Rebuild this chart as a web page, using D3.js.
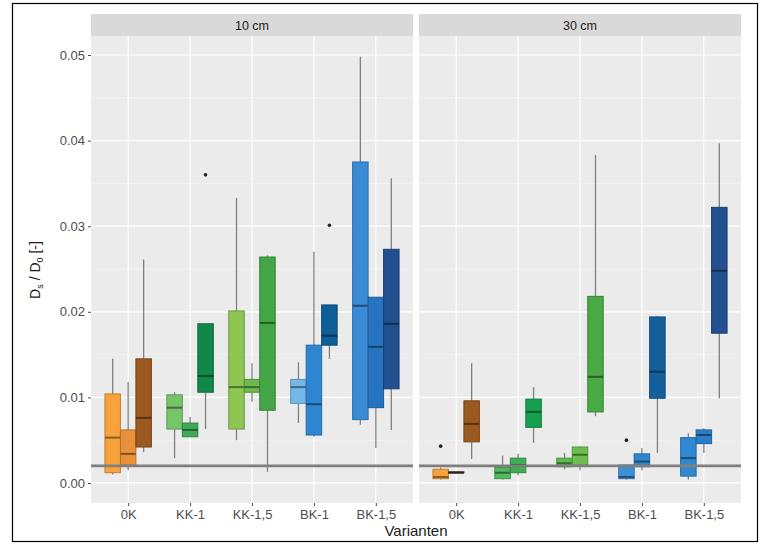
<!DOCTYPE html>
<html><head><meta charset="utf-8">
<script src="https://cdn.jsdelivr.net/npm/d3@7"></script>
<style>body{margin:0;background:#fff}svg{display:block;font-family:"Liberation Sans",Arial,sans-serif}</style>
</head><body><svg id="c" width="768" height="549"></svg>
<script>
const variants = ["0K","KK-1","KK-1,5","BK-1","BK-1,5"];
const depths = ["10 cm","30 cm"];
const yTicks = [0,0.01,0.02,0.03,0.04,0.05];
const refLine = 0.002;
// [variant, slot, whiskerLow, q1, median, q3, whiskerHigh]
const boxes10 = [
  ["0K",0,0.0010,0.0012,0.0053,0.0104,0.0145],
  ["0K",1,0.0015,0.0021,0.0034,0.0062,0.0118],
  ["0K",2,0.0036,0.0042,0.0076,0.0145,0.0261],
  ["KK-1",0,0.0029,0.0063,0.0088,0.0103,0.0106],
  ["KK-1",1,0.0054,0.0054,0.0062,0.0070,0.0077],
  ["KK-1",2,0.0063,0.0106,0.0125,0.0186,0.0186],
  ["KK-1,5",0,0.0050,0.0063,0.0112,0.0201,0.0333],
  ["KK-1,5",1,0.0095,0.0106,0.0112,0.0121,0.0140],
  ["KK-1,5",2,0.0013,0.0085,0.0187,0.0264,0.0266],
  ["BK-1",0,0.0070,0.0093,0.0112,0.0121,0.0141],
  ["BK-1",1,0.0054,0.0056,0.0092,0.0161,0.0270],
  ["BK-1",2,0.0145,0.0161,0.0172,0.0208,0.0208],
  ["BK-1,5",0,0.0068,0.0074,0.0207,0.0375,0.0498],
  ["BK-1,5",1,0.0041,0.0088,0.0159,0.0217,0.0217],
  ["BK-1,5",2,0.0062,0.0110,0.0186,0.0273,0.0356]
];
const boxes30 = [
  ["0K",0,0.0004,0.0005,0.0007,0.0016,0.0018],
  ["0K",1,0.0012,0.0012,0.0012,0.0013,0.0013],
  ["0K",2,0.0028,0.0048,0.0069,0.0096,0.0140],
  ["KK-1",0,0.0004,0.0005,0.0012,0.0018,0.0032],
  ["KK-1",1,0.0009,0.0012,0.0021,0.0029,0.0034],
  ["KK-1",2,0.0047,0.0065,0.0083,0.0098,0.0112],
  ["KK-1,5",0,0.0016,0.0019,0.0023,0.0029,0.0035],
  ["KK-1,5",1,0.0015,0.0021,0.0033,0.0042,0.0043],
  ["KK-1,5",2,0.0078,0.0083,0.0124,0.0218,0.0383],
  ["BK-1",0,0.0004,0.0005,0.0007,0.0021,0.0021],
  ["BK-1",1,0.0015,0.0019,0.0025,0.0034,0.0041],
  ["BK-1",2,0.0035,0.0099,0.0130,0.0194,0.0195],
  ["BK-1,5",0,0.0004,0.0008,0.0029,0.0053,0.0058],
  ["BK-1,5",1,0.0035,0.0046,0.0056,0.0062,0.0064],
  ["BK-1,5",2,0.0099,0.0175,0.0248,0.0322,0.0397]
];
// [depth, variant, slot, value]
const outliers = [
  ["10 cm","KK-1",2,0.0360],
  ["10 cm","BK-1",2,0.0301],
  ["30 cm","0K",0,0.0043],
  ["30 cm","BK-1",0,0.0050]
];
const colors10 = {
  "0K":["#f7a33d","#e8913a","#9a5a1f"],
  "KK-1":["#78c46a","#3eaa58","#128848"],
  "KK-1,5":["#8dc653","#6cba4e","#44a646"],
  "BK-1":["#74b8e8","#2f86d0","#0f5e97"],
  "BK-1,5":["#3a8bd6","#2673c2","#224f8f"]
};
const colors30 = {
  "0K":["#f7a33d","#4a3a2a","#9a5a1f"],
  "KK-1":["#4fba5f","#3eae55","#14a04e"],
  "KK-1,5":["#5dbb50","#6cbe50","#48a945"],
  "BK-1":["#3b90d8","#2f86ce","#14609c"],
  "BK-1,5":["#3088d0","#2a7dc8","#24508f"]
};

const svg = d3.select("#c");
svg.append("rect").attr("x",12.5).attr("y",3.5).attr("width",745).attr("height",538)
  .attr("fill","#fff").attr("stroke","#000").attr("stroke-width",1.2);

const pTop = 36, pBottom = 503;
const y = d3.scaleLinear().domain([-0.00234,0.05222]).range([pBottom,pTop]);
const panels = [{d:"10 cm",x0:91,x1:413,data:boxes10,col:colors10},
                {d:"30 cm",x0:419,x1:741,data:boxes30,col:colors30}];

panels.forEach(p=>{
  const g = svg.append("g");
  const x = d3.scalePoint().domain(variants).range([p.x0,p.x1]).padding(0.6);
  const step = x.step();
  const bw = step*0.75/3;
  g.append("rect").attr("x",p.x0).attr("y",pTop).attr("width",p.x1-p.x0).attr("height",pBottom-pTop).attr("fill","#ebebeb");
  const minor = d3.range(0,0.055,0.005).filter(v=>Math.round(v*1000)%10!==0);
  g.selectAll(".mn").data(minor).join("line").attr("x1",p.x0).attr("x2",p.x1)
    .attr("y1",d=>y(d)).attr("y2",d=>y(d)).attr("stroke","#f5f5f5").attr("stroke-width",0.8);
  g.selectAll(".mj").data(yTicks).join("line").attr("x1",p.x0).attr("x2",p.x1)
    .attr("y1",d=>y(d)).attr("y2",d=>y(d)).attr("stroke","#fff").attr("stroke-width",1.2);
  g.selectAll(".vg").data(variants).join("line").attr("x1",d=>x(d)).attr("x2",d=>x(d))
    .attr("y1",pTop).attr("y2",pBottom).attr("stroke","#fff").attr("stroke-width",1.2);
  g.append("rect").attr("x",p.x0).attr("y",14).attr("width",p.x1-p.x0).attr("height",22).attr("fill","#d9d9d9");
  g.append("text").attr("x",(p.x0+p.x1)/2).attr("y",29.5).attr("text-anchor","middle")
    .attr("font-size",12.5).attr("fill","#1a1a1a").text(p.d);
  p.data.forEach(b=>{
    const [v,s,lo,q1,md,q3,hi] = b;
    const cx = x(v) + (s-1)*bw;
    const fill = p.col[v][s];
    const dk = d3.color(fill).darker(0.7).formatHex();
    const mdc = d3.color(fill).darker(1.6).formatHex();
    g.append("line").attr("x1",cx).attr("x2",cx).attr("y1",y(hi)).attr("y2",y(q3)).attr("stroke","#808080").attr("stroke-width",1.3);
    g.append("line").attr("x1",cx).attr("x2",cx).attr("y1",y(q1)).attr("y2",y(lo)).attr("stroke","#808080").attr("stroke-width",1.3);
    g.append("rect").attr("x",cx-bw/2).attr("y",y(q3)).attr("width",bw).attr("height",Math.max(0.5,y(q1)-y(q3)))
      .attr("fill",fill).attr("stroke",dk).attr("stroke-width",1);
    g.append("line").attr("x1",cx-bw/2).attr("x2",cx+bw/2).attr("y1",y(md)).attr("y2",y(md))
      .attr("stroke",mdc).attr("stroke-width",2);
  });
  g.append("line").attr("x1",p.x0).attr("x2",p.x1).attr("y1",y(refLine)).attr("y2",y(refLine))
    .attr("stroke","#7f7f7f").attr("stroke-width",2.6);
  outliers.filter(o=>o[0]===p.d).forEach(o=>{
    g.append("circle").attr("cx",x(o[1])+(o[2]-1)*bw).attr("cy",y(o[3])).attr("r",1.8).attr("fill","#222");
  });
  const xa = g.append("g").attr("transform",`translate(0,${pBottom})`).call(d3.axisBottom(x).tickSize(3).tickPadding(4));
  xa.select(".domain").remove();
  xa.selectAll("line").attr("stroke","#4d4d4d");
  xa.selectAll("text").attr("font-size",13).attr("fill","#4d4d4d").attr("font-family","Liberation Sans, Arial, sans-serif");
});

const ya = svg.append("g").attr("transform",`translate(91,0)`)
  .call(d3.axisLeft(y).tickValues(yTicks).tickFormat(d3.format(".2f")).tickSize(3).tickPadding(3));
ya.select(".domain").remove();
ya.selectAll("line").attr("stroke","#4d4d4d");
ya.selectAll("text").attr("font-size",13).attr("fill","#4d4d4d").attr("font-family","Liberation Sans, Arial, sans-serif");

svg.append("text").attr("x",416).attr("y",536).attr("text-anchor","middle").attr("font-size",15).attr("fill","#1a1a1a").text("Varianten");
const yt = svg.append("text").attr("transform","translate(40,270) rotate(-90)").attr("text-anchor","middle")
  .attr("font-size",14).attr("fill","#1a1a1a");
yt.append("tspan").text("D");
yt.append("tspan").attr("font-size",9).attr("dy",3).text("s");
yt.append("tspan").attr("dy",-3).text(" / D");
yt.append("tspan").attr("font-size",9).attr("dy",3).text("0");
yt.append("tspan").attr("dy",-3).text(" [-]");
</script></body></html>
